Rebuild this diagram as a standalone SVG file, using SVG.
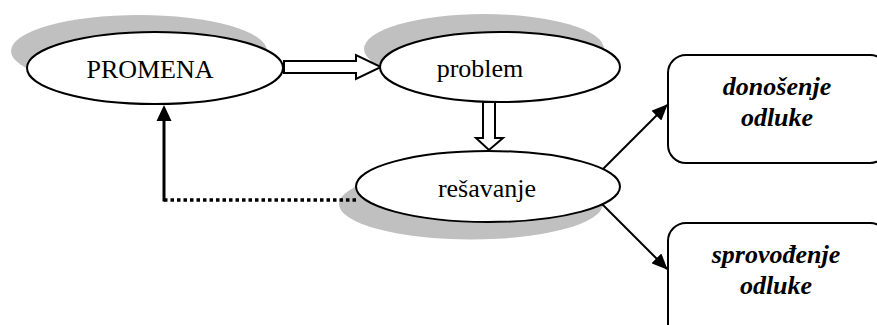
<svg xmlns="http://www.w3.org/2000/svg" width="877" height="325" viewBox="0 0 877 325">
  <defs>
    <marker id="head" viewBox="0 0 16 14" refX="15" refY="7" markerWidth="16" markerHeight="14" markerUnits="userSpaceOnUse" orient="auto">
      <path d="M0,0 L16,7 L0,14 Z" fill="#000"/>
    </marker>
  </defs>
  <style>
    .shadow { fill: #c0c0c0; stroke: none; }
    .oval { fill: #fff; stroke: #000; stroke-width: 2; }
    .box { fill: #fff; stroke: #000; stroke-width: 2; }
    .label { font-family: 'Liberation Serif', serif; font-size: 26px; fill: #000; text-anchor: middle; }
    .bi { font-weight: bold; font-style: italic; }
    .hollow { fill: #fff; stroke: #000; stroke-width: 2; stroke-linejoin: miter; }
    .thin { stroke: #000; stroke-width: 2; fill: none; }
  </style>
  <rect width="877" height="325" fill="#fff"/>

  <!-- shadows behind the ovals -->
  <ellipse class="shadow" cx="139" cy="51" rx="128" ry="36"/>
  <ellipse class="shadow" cx="484" cy="49" rx="120" ry="35"/>
  <ellipse class="shadow" cx="471" cy="204" rx="132" ry="35.5"/>

  <g id="connectors">
    <!-- dotted return path from rešavanje to PROMENA -->
    <path d="M164,200 H357" stroke="#000" stroke-width="3.5" stroke-dasharray="3.5,3" fill="none"/>
    <path d="M164,201.5 V119" stroke="#000" stroke-width="3" fill="none"/>
    <path d="M156.5,121 L164,105 L171.5,121 Z" fill="#000"/>
    <!-- block arrow PROMENA -> problem -->
    <path class="hollow" d="M284,61 H356 V55 L381,67 L356,79 V73 H284 Z"/>
    <!-- block arrow problem -> rešavanje -->
    <path class="hollow" d="M483,102 V138 H476 L489,150 L503,138 H495 V102 Z"/>
    <!-- decision arrows -->
    <line class="thin" x1="597" y1="175" x2="667" y2="105" marker-end="url(#head)"/>
    <line class="thin" x1="598" y1="200" x2="667" y2="269" marker-end="url(#head)"/>
  </g>

  <g id="promena">
    <ellipse class="oval" cx="155" cy="68" rx="128" ry="36"/>
    <text class="label" x="150" y="78">PROMENA</text>
  </g>

  <g id="problem">
    <ellipse class="oval" cx="500" cy="67" rx="120" ry="35"/>
    <text class="label" x="480" y="77">problem</text>
  </g>

  <g id="resavanje">
    <ellipse class="oval" cx="488" cy="186.5" rx="132" ry="35.5"/>
    <text class="label" x="487" y="197">rešavanje</text>
  </g>

  <g id="donosenje">
    <rect class="box" x="668" y="55" width="220" height="108" rx="18"/>
    <text class="label bi" x="777" y="95">donošenje</text>
    <text class="label bi" x="777" y="126">odluke</text>
  </g>

  <g id="sprovodjenje">
    <rect class="box" x="668" y="223" width="220" height="120" rx="18"/>
    <text class="label bi" x="776" y="263">sprovođenje</text>
    <text class="label bi" x="776" y="294">odluke</text>
  </g>
</svg>
